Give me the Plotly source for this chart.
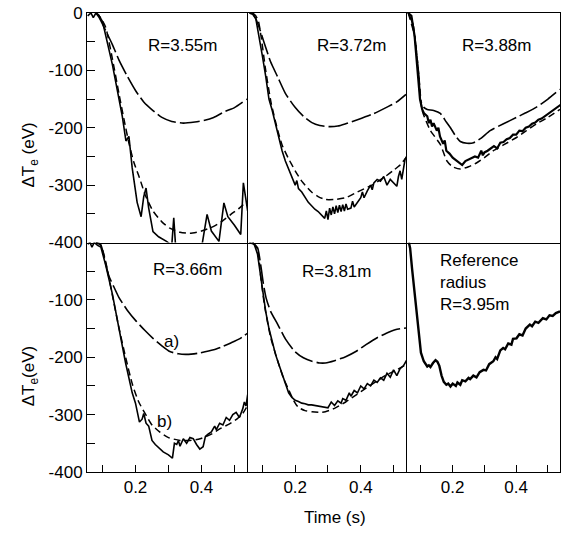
import plotly.graph_objects as go
from plotly.subplots import make_subplots

# ---------------- data (time in s, delta Te in eV) ----------------
titles = ["R=3.55m", "R=3.72m", "R=3.88m", "R=3.66m", "R=3.81m", "Reference<br>radius<br>R=3.95m"]

# R=3.55m
p1_a_t = [0.08, 0.09, 0.109, 0.13, 0.15, 0.175, 0.2, 0.225, 0.253, 0.28, 0.31, 0.345, 0.38, 0.41, 0.437, 0.47, 0.5, 0.538]
p1_a_v = [0, -8, -30, -55, -82, -110, -135, -155, -170, -182, -189, -192, -190, -187, -182, -172, -165, -150]
p1_b_t = [0.08, 0.09, 0.109, 0.13, 0.15, 0.165, 0.181, 0.195, 0.212, 0.23, 0.253, 0.28, 0.304, 0.335, 0.365, 0.4, 0.437, 0.465, 0.489, 0.515, 0.538]
p1_b_v = [0, -5, -24, -80, -141, -185, -229, -260, -287, -318, -345, -364, -375, -382, -384, -380, -372, -362, -351, -340, -328]
p1_e_t = [0.055, 0.065, 0.072, 0.08, 0.088, 0.1, 0.13, 0.16, 0.171, 0.18, 0.19, 0.205, 0.217, 0.225, 0.232, 0.24, 0.253, 0.27, 0.294, 0.31, 0.316, 0.322, 0.35, 0.38, 0.4, 0.417, 0.43, 0.453, 0.468, 0.48, 0.5, 0.519, 0.527, 0.535, 0.54]
p1_e_v = [-5, 0, -8, 0, -3, -15, -90, -180, -223, -215, -270, -330, -355, -320, -305, -340, -381, -390, -398, -405, -357, -410, -420, -415, -410, -351, -380, -398, -331, -355, -370, -386, -296, -330, -345]

# R=3.72m
p2_a_t = [0.07, 0.08, 0.09, 0.106, 0.125, 0.147, 0.17, 0.199, 0.225, 0.251, 0.275, 0.302, 0.33, 0.354, 0.39, 0.437, 0.48, 0.51, 0.538]
p2_a_v = [0, -10, -25, -53, -85, -112, -140, -164, -180, -191, -196, -198, -197, -193, -186, -176, -164, -155, -142]
p2_b_t = [0.07, 0.08, 0.088, 0.096, 0.11, 0.127, 0.147, 0.16, 0.178, 0.2, 0.22, 0.25, 0.27, 0.292, 0.32, 0.354, 0.39, 0.437, 0.47, 0.498, 0.52, 0.538]
p2_b_v = [0, -5, -15, -41, -100, -158, -205, -230, -252, -275, -293, -312, -320, -325, -325, -322, -312, -299, -287, -275, -265, -252]
p2_e_t = [0.06, 0.07, 0.08, 0.09, 0.1, 0.11, 0.12, 0.13, 0.14, 0.15, 0.16, 0.17, 0.18, 0.19, 0.2, 0.205, 0.21, 0.22, 0.23, 0.24, 0.25, 0.26, 0.27, 0.28, 0.29, 0.295, 0.3, 0.305, 0.31, 0.315, 0.32, 0.325, 0.33, 0.335, 0.34, 0.345, 0.35, 0.355, 0.36, 0.37, 0.375, 0.38, 0.39, 0.4, 0.405, 0.41, 0.42, 0.43, 0.435, 0.44, 0.45, 0.46, 0.47, 0.48, 0.49, 0.5, 0.51, 0.515, 0.52, 0.525, 0.53, 0.535, 0.54]
p2_e_v = [0, -2, -10, -40, -75, -110, -150, -170, -195, -220, -240, -258, -272, -283, -300, -292, -306, -312, -322, -330, -336, -342, -346, -352, -358, -345, -360, -340, -352, -338, -350, -336, -348, -335, -346, -334, -345, -333, -342, -340, -328, -338, -330, -322, -312, -322, -310, -300, -308, -296, -290, -293, -285, -300, -290, -296, -302, -285, -275, -290, -268, -255, -250]

# R=3.88m
p3_a_t = [0.06, 0.075, 0.083, 0.094, 0.099, 0.11, 0.12, 0.14, 0.161, 0.18, 0.193, 0.21, 0.224, 0.245, 0.266, 0.29, 0.318, 0.36, 0.401, 0.43, 0.464, 0.5, 0.538]
p3_a_v = [0, -20, -53, -112, -153, -165, -168, -170, -175, -190, -200, -215, -224, -227, -226, -218, -205, -193, -182, -174, -164, -150, -133]
p3_b_t = [0.06, 0.08, 0.095, 0.104, 0.13, 0.161, 0.182, 0.2, 0.224, 0.25, 0.276, 0.3, 0.328, 0.36, 0.401, 0.43, 0.464, 0.5, 0.538]
p3_b_v = [0, -40, -120, -170, -205, -229, -258, -268, -272, -268, -261, -252, -240, -230, -217, -206, -193, -182, -168]
p3_e_t = [0.06, 0.07, 0.08, 0.09, 0.097, 0.104, 0.11, 0.12, 0.125, 0.13, 0.135, 0.14, 0.15, 0.155, 0.16, 0.17, 0.175, 0.18, 0.19, 0.2, 0.21, 0.22, 0.23, 0.24, 0.25, 0.26, 0.27, 0.28, 0.29, 0.295, 0.3, 0.31, 0.32, 0.33, 0.34, 0.35, 0.36, 0.37, 0.38, 0.39, 0.4, 0.41, 0.42, 0.43, 0.44, 0.45, 0.46, 0.47, 0.48, 0.49, 0.5, 0.51, 0.52, 0.53, 0.54]
p3_e_v = [0, -5, -40, -100, -150, -168, -175, -180, -192, -186, -198, -192, -205, -200, -215, -228, -222, -240, -245, -252, -256, -260, -265, -258, -255, -252, -250, -252, -240, -248, -243, -240, -236, -232, -236, -226, -225, -220, -218, -212, -212, -205, -206, -200, -198, -193, -191, -186, -184, -180, -176, -172, -168, -165, -160]

# R=3.66m
p4_a_t = [0.08, 0.094, 0.105, 0.119, 0.135, 0.15, 0.175, 0.202, 0.228, 0.253, 0.28, 0.304, 0.33, 0.355, 0.39, 0.437, 0.465, 0.489, 0.515, 0.54]
p4_a_v = [0, -3, -25, -58, -78, -96, -118, -137, -153, -167, -180, -190, -194, -195, -193, -187, -181, -175, -168, -158]
p4_b_t = [0.08, 0.095, 0.109, 0.13, 0.15, 0.17, 0.191, 0.21, 0.232, 0.25, 0.273, 0.3, 0.335, 0.365, 0.396, 0.43, 0.458, 0.485, 0.509, 0.525, 0.54]
p4_b_v = [0, -5, -32, -92, -149, -200, -248, -278, -301, -318, -330, -340, -345, -345, -342, -334, -324, -316, -307, -298, -284]
p4_e_t = [0.055, 0.062, 0.068, 0.075, 0.085, 0.095, 0.11, 0.13, 0.15, 0.17, 0.19, 0.2, 0.212, 0.22, 0.225, 0.232, 0.24, 0.25, 0.26, 0.27, 0.284, 0.3, 0.312, 0.318, 0.325, 0.33, 0.335, 0.345, 0.355, 0.365, 0.375, 0.385, 0.395, 0.405, 0.412, 0.42, 0.43, 0.44, 0.445, 0.455, 0.465, 0.475, 0.485, 0.495, 0.505, 0.515, 0.525, 0.53, 0.535, 0.54]
p4_e_v = [-3, 0, -8, 0, -5, -8, -40, -90, -150, -210, -262, -280, -313, -308, -298, -315, -320, -345, -352, -358, -365, -370, -376, -350, -352, -345, -355, -342, -350, -340, -342, -352, -360, -356, -338, -334, -330, -320, -326, -315, -318, -305, -310, -300, -296, -305, -290, -278, -285, -265]

# R=3.81m
p5_a_t = [0.07, 0.085, 0.095, 0.103, 0.111, 0.125, 0.147, 0.17, 0.199, 0.225, 0.251, 0.275, 0.292, 0.32, 0.354, 0.385, 0.416, 0.45, 0.478, 0.505, 0.538]
p5_a_v = [0, -9, -40, -72, -96, -120, -143, -168, -190, -201, -207, -210, -210, -206, -199, -190, -178, -166, -158, -152, -149]
p5_b_t = [0.07, 0.085, 0.095, 0.106, 0.125, 0.147, 0.165, 0.178, 0.195, 0.209, 0.23, 0.251, 0.275, 0.292, 0.32, 0.354, 0.385, 0.416, 0.45, 0.478, 0.51, 0.538]
p5_b_v = [0, -12, -60, -108, -165, -207, -238, -254, -275, -287, -293, -295, -296, -295, -289, -278, -266, -254, -241, -231, -222, -213]
p5_e_t = [0.06, 0.075, 0.085, 0.1, 0.11, 0.12, 0.13, 0.14, 0.15, 0.16, 0.17, 0.18, 0.19, 0.2, 0.21, 0.22, 0.23, 0.24, 0.25, 0.26, 0.27, 0.28, 0.29, 0.3, 0.305, 0.31, 0.32, 0.33, 0.34, 0.345, 0.355, 0.365, 0.37, 0.38, 0.39, 0.4, 0.41, 0.42, 0.43, 0.44, 0.45, 0.46, 0.47, 0.48, 0.49, 0.5, 0.51, 0.52, 0.53, 0.54]
p5_e_v = [0, -3, -20, -85, -120, -150, -175, -195, -212, -230, -248, -262, -270, -275, -277, -280, -281, -283, -283, -284, -284, -285, -286, -288, -283, -278, -284, -276, -280, -272, -275, -262, -268, -258, -262, -250, -255, -246, -250, -240, -244, -236, -240, -228, -235, -222, -232, -220, -215, -205]

# Reference radius R=3.95m
p6_e_t = [0.062, 0.066, 0.072, 0.078, 0.085, 0.094, 0.1, 0.109, 0.115, 0.12, 0.125, 0.13, 0.138, 0.146, 0.152, 0.158, 0.165, 0.172, 0.18, 0.186, 0.193, 0.2, 0.21, 0.215, 0.224, 0.23, 0.24, 0.25, 0.255, 0.265, 0.275, 0.285, 0.297, 0.305, 0.315, 0.328, 0.335, 0.34, 0.35, 0.359, 0.365, 0.375, 0.385, 0.39, 0.401, 0.41, 0.42, 0.43, 0.443, 0.45, 0.46, 0.47, 0.484, 0.495, 0.505, 0.515, 0.525, 0.538]
p6_e_v = [0, -10, -45, -79, -120, -167, -192, -207, -212, -216, -214, -217, -210, -205, -208, -215, -232, -243, -248, -246, -251, -246, -250, -244, -248, -240, -242, -236, -238, -232, -235, -226, -222, -223, -212, -207, -200, -203, -188, -184, -186, -176, -178, -168, -167, -160, -162, -150, -143, -146, -138, -140, -132, -134, -127, -128, -123, -120]

x_ticks = [0.1, 0.2, 0.3, 0.4, 0.5]
x_ticktext = ["", "0.2", "", "0.4", ""]
y_ticks = [0, -100, -200, -300, -400]
y_top_text = ["0", "-100", "-200", "-300", "-400"]
y_bot_text = ["", "-100", "-200", "-300", "-400"]

# ---------------- figure ----------------
FONT = "Liberation Sans, Arial, sans-serif"
fig = make_subplots(rows=2, cols=3, column_widths=[160, 159, 154],
                    horizontal_spacing=0, vertical_spacing=0)

DASH_A = "20px,4px"
DASH_B = "7px,4px"

panels = [
    (1, 1, p1_a_t, p1_a_v, p1_b_t, p1_b_v, p1_e_t, p1_e_v),
    (1, 2, p2_a_t, p2_a_v, p2_b_t, p2_b_v, p2_e_t, p2_e_v),
    (1, 3, p3_a_t, p3_a_v, p3_b_t, p3_b_v, p3_e_t, p3_e_v),
    (2, 1, p4_a_t, p4_a_v, p4_b_t, p4_b_v, p4_e_t, p4_e_v),
    (2, 2, p5_a_t, p5_a_v, p5_b_t, p5_b_v, p5_e_t, p5_e_v),
]
for (r, c, at, av, bt, bv, et, ev) in panels:
    fig.add_trace(go.Scatter(x=at, y=av, mode="lines", line=dict(color="black", width=1.6, dash=DASH_A, shape="spline", smoothing=0.6)), row=r, col=c)
    fig.add_trace(go.Scatter(x=bt, y=bv, mode="lines", line=dict(color="black", width=1.5, dash=DASH_B, shape="spline", smoothing=0.6)), row=r, col=c)
    fig.add_trace(go.Scatter(x=et, y=ev, mode="lines", line=dict(color="black", width=1.6 if (r, c) != (1, 3) else 2.2)), row=r, col=c)

fig.add_trace(go.Scatter(x=p6_e_t, y=p6_e_v, mode="lines", line=dict(color="black", width=2.4)), row=2, col=3)

tfont = dict(family=FONT, size=17, color="black")
for r in (1, 2):
    for c in (1, 2, 3):
        fig.update_xaxes(range=[0.053, 0.538], showline=True, mirror=(r == 1), linecolor="black", linewidth=1,
                         showgrid=False, zeroline=False, tickvals=x_ticks,
                         ticktext=x_ticktext if r == 2 else [""] * 5,
                         ticks="inside" if r == 2 else "", ticklen=7, tickcolor="black",
                         tickfont=tfont, row=r, col=c)
        fig.update_yaxes(range=[-400, 0], showline=True, mirror=(c == 1), side="left" if c == 1 else "right",
                         linecolor="black", linewidth=1,
                         showgrid=False, zeroline=False, tickvals=y_ticks,
                         ticktext=(y_top_text if r == 1 else y_bot_text) if c == 1 else [""] * 5,
                         ticks="inside" if c == 1 else "", ticklen=8, tickcolor="black",
                         minor=dict(dtick=50, ticks="inside" if c == 1 else "", ticklen=8, tickcolor="black", showgrid=False),
                         tickfont=tfont, row=r, col=c)

ann = []
title_pos = [("x", "y", 0.342, -56), ("x2", "y2", 0.372, -56), ("x3", "y3", 0.3375, -56),
             ("x4", "y4", 0.358, -47), ("x5", "y5", 0.326, -51)]
for (xr, yr, tx, ty), txt in zip(title_pos, titles[:5]):
    ann.append(dict(x=tx, y=ty, xref=xr, yref=yr, text=txt, showarrow=False,
                    xanchor="center", yanchor="middle", font=tfont))
ann.append(dict(x=0.153, y=-12, xref="x6", yref="y6", text=titles[5], showarrow=False,
                xanchor="left", yanchor="top", align="left", font=tfont))
ann.append(dict(x=0.31, y=-172, xref="x4", yref="y4", text="a)", showarrow=False,
                xanchor="center", yanchor="middle", font=tfont))
ann.append(dict(x=0.289, y=-312, xref="x4", yref="y4", text="b)", showarrow=False,
                xanchor="center", yanchor="middle", font=tfont))
ann.append(dict(x=-0.12, y=0.69, xref="paper", yref="paper", text="ΔT<sub>e</sub> (eV)", showarrow=False,
                xanchor="center", yanchor="middle", textangle=-90, font=tfont))
ann.append(dict(x=-0.12, y=0.209, xref="paper", yref="paper", text="ΔT<sub>e</sub>(eV)", showarrow=False,
                xanchor="center", yanchor="middle", textangle=-90, font=tfont))
ann.append(dict(x=0.524, y=-0.1, xref="paper", yref="paper", text="Time (s)", showarrow=False,
                xanchor="center", yanchor="middle", font=tfont))

fig.update_layout(width=562, height=533, margin=dict(l=87, r=2, t=13, b=61),
                  paper_bgcolor="white", plot_bgcolor="white", showlegend=False,
                  annotations=ann, font=tfont)

fig.write_html("out.html")
